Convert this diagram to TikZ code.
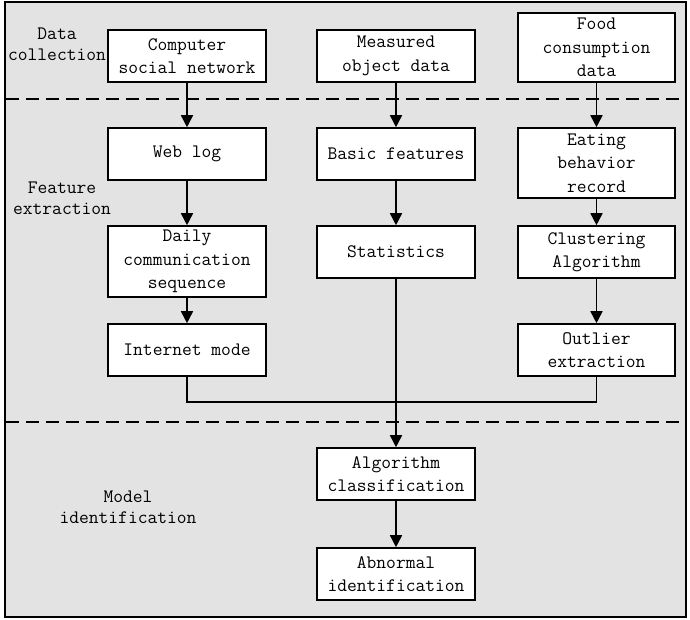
\documentclass[tikz,border=0pt]{standalone}
\usepackage{fontspec}
\usetikzlibrary{arrows.meta}
\definecolor{panel}{RGB}{227,227,227}
\tikzset{
  box/.style={draw=black, line width=1.6pt, fill=white, minimum width=158pt,
    minimum height=52pt, inner sep=0pt, align=center,
    font=\ttfamily\fontsize{19}{23.5}\selectfont},
  lbl/.style={align=center, inner sep=0pt, font=\ttfamily\fontsize{19}{21}\selectfont},
  flow/.style={line width=1.6pt, -{Triangle[length=12pt,width=12pt]}},
  mergeline/.style={line width=1.4pt},
  sep/.style={line width=1.5pt, dash pattern=on 13pt off 7pt}
}
\begin{document}
\begin{tikzpicture}[x=1pt,y=-1pt]
\useasboundingbox (0,0) rectangle (690,619);
% background panel and frame
\draw[fill=panel, line width=1.5pt] (5,2) rectangle (686,617);
% stage separators
\draw[sep] (6,99) -- (685,99);
\draw[sep] (6,422) -- (685,422);

% stage labels
\node[lbl] (ldata) at (57,44) {Data\\collection};
\node[lbl] (lfeat) at (62,198) {Feature\\extraction};
\node[lbl] (lmodel) at (128,507) {Model\\identification};

% first column
\node[box] (comp) at (187,56) {Computer\\social network};
\node[box] (web) at (187,154) {Web log};
\node[box, minimum height=71pt] (daily) at (187,261.5) {Daily\\communication\\sequence};
\node[box] (inet) at (187,350) {Internet mode};

% second column
\node[box] (meas) at (396,56) {Measured\\object data};
\node[box] (basic) at (396,154) {Basic features};
\node[box] (stat) at (396,252) {Statistics};

% third column
\node[box, minimum width=157pt, minimum height=69pt] (food) at (596.5,47.5) {Food\\consumption\\data};
\node[box, minimum width=157pt, minimum height=70pt] (eat) at (596.5,163) {Eating\\behavior\\record};
\node[box, minimum width=157pt] (clus) at (596.5,252) {Clustering\\Algorithm};
\node[box, minimum width=157pt] (outl) at (596.5,350) {Outlier\\extraction};

% model stage
\node[box] (algo) at (396,474) {Algorithm\\classification};
\node[box] (abn) at (396,574) {Abnormal\\identification};

% merge point of the three branches
\coordinate (merge) at (396,402);

% connectors
\draw[flow] (comp) -- (web);
\draw[flow] (web) -- (daily);
\draw[flow] (daily) -- (inet);
\draw[flow] (meas) -- (basic);
\draw[flow] (basic) -- (stat);
\draw[flow] (food) -- (eat);
\draw[flow] (eat) -- (clus);
\draw[flow] (clus) -- (outl);
\draw[mergeline] (inet.south) |- (merge) -| (outl.south);
\draw[flow] (stat) -- (algo);
\draw[flow] (algo) -- (abn);
\end{tikzpicture}
\end{document}
